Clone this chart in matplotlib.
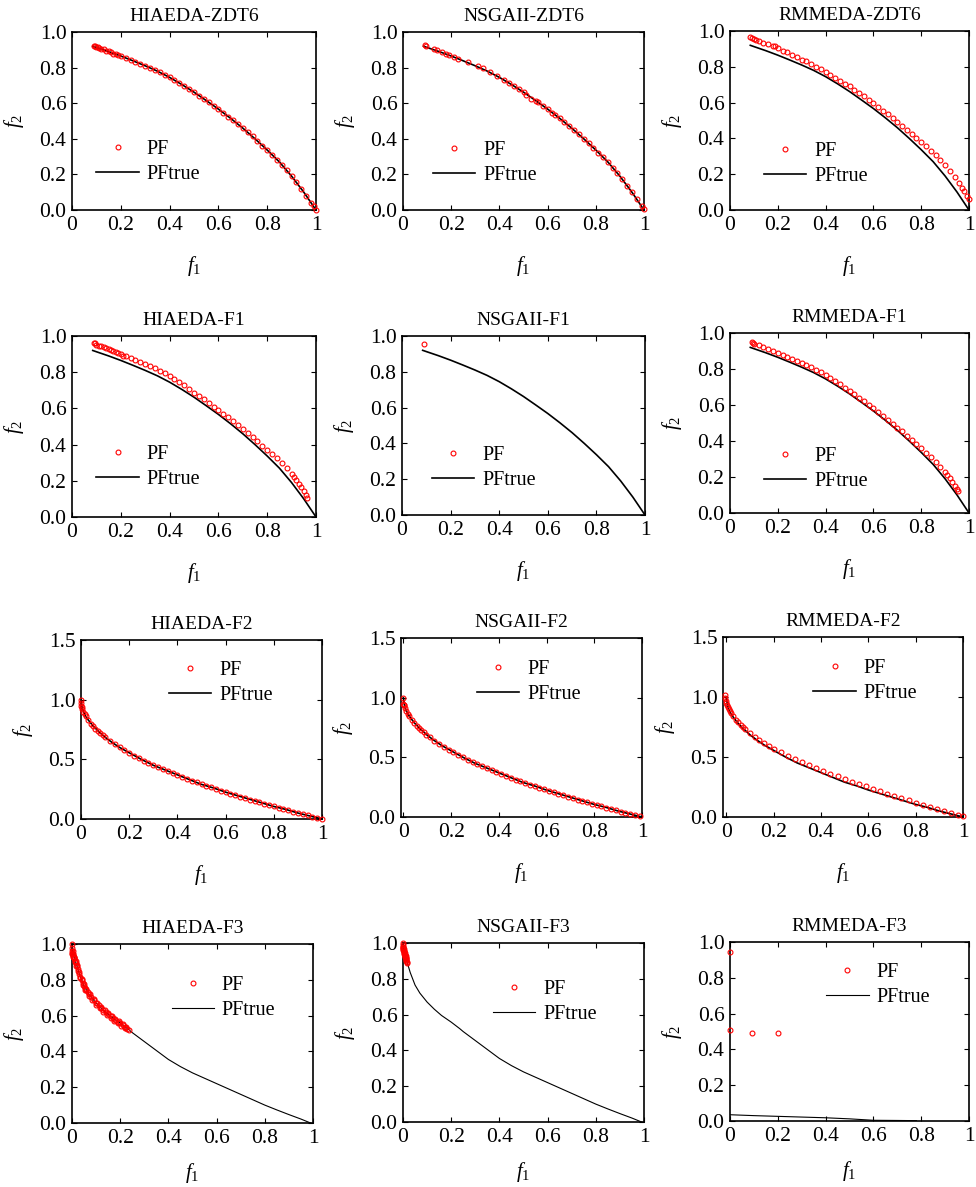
import matplotlib
matplotlib.use('Agg')
import matplotlib.pyplot as plt

plt.rcParams['font.family'] = ['Liberation Serif', 'DejaVu Serif']
plt.rcParams['mathtext.fontset'] = 'custom'
plt.rcParams['mathtext.it'] = 'Liberation Serif:italic'
plt.rcParams['mathtext.rm'] = 'Liberation Serif'

# ---------------- data ----------------
titles = ["HIAEDA-ZDT6", "NSGAII-ZDT6", "RMMEDA-ZDT6",
          "HIAEDA-F1", "NSGAII-F1", "RMMEDA-F1",
          "HIAEDA-F2", "NSGAII-F2", "RMMEDA-F2",
          "HIAEDA-F3", "NSGAII-F3", "RMMEDA-F3"]

# true Pareto fronts
pft_a_f1 = [0.085, 0.10, 0.15, 0.20, 0.25, 0.30, 0.35, 0.40, 0.45, 0.50, 0.55, 0.60, 0.65, 0.70, 0.75, 0.80, 0.85, 0.90, 0.95, 1.00]
pft_a_f2 = [0.92, 0.913, 0.89, 0.865, 0.838, 0.81, 0.78, 0.745, 0.705, 0.662, 0.615, 0.567, 0.515, 0.46, 0.40, 0.337, 0.27, 0.19, 0.10, 0.0]

pft_b_f1 = [0, 0.005, 0.01, 0.02, 0.03, 0.05, 0.07, 0.1, 0.13, 0.16, 0.2, 0.25, 0.3, 0.35, 0.4, 0.45, 0.5, 0.55, 0.6, 0.65, 0.7, 0.75, 0.8, 0.85, 0.9, 0.95, 1.0]
pft_b_f2 = [1.0, 0.93, 0.9, 0.86, 0.83, 0.78, 0.74, 0.685, 0.64, 0.6, 0.555, 0.5, 0.45, 0.41, 0.37, 0.33, 0.29, 0.26, 0.225, 0.195, 0.165, 0.135, 0.105, 0.08, 0.05, 0.025, 0.0]

pft_c_f1 = [0, 0.005, 0.01, 0.02, 0.03, 0.05, 0.07, 0.1, 0.13, 0.16, 0.2, 0.235, 0.25, 0.3, 0.35, 0.4, 0.45, 0.5, 0.55, 0.6, 0.65, 0.7, 0.75, 0.8, 0.85, 0.9, 0.95, 0.99]
pft_c_f2 = [1.0, 0.95, 0.92, 0.88, 0.835, 0.765, 0.72, 0.67, 0.63, 0.595, 0.558, 0.522, 0.505, 0.455, 0.405, 0.355, 0.315, 0.28, 0.25, 0.22, 0.19, 0.16, 0.13, 0.10, 0.073, 0.047, 0.022, 0.0]

pft_d_f1 = [0, 0.1, 0.2, 0.3, 0.4, 0.5, 0.55, 0.6, 0.7, 0.78]
pft_d_f2 = [0.035, 0.03, 0.026, 0.022, 0.018, 0.012, 0.008, 0.004, 0.003, 0.002]

# obtained fronts (PF)
hz6_f1 = [0.09, 0.095, 0.10, 0.105, 0.11, 0.12, 0.13, 0.14, 0.15, 0.16, 0.17, 0.18, 0.19, 0.20,
          0.22, 0.24, 0.26, 0.28, 0.30, 0.32, 0.34, 0.36, 0.38, 0.40,
          0.42, 0.44, 0.46, 0.48, 0.50, 0.52, 0.54, 0.56, 0.58, 0.60,
          0.62, 0.64, 0.66, 0.68, 0.70, 0.72, 0.74, 0.76, 0.78, 0.80,
          0.82, 0.84, 0.86, 0.88, 0.90, 0.92, 0.94, 0.96, 0.98, 0.99, 1.0]
hz6_f2 = [0.924, 0.921, 0.916, 0.913, 0.911, 0.906, 0.902, 0.895, 0.891, 0.885, 0.879, 0.876, 0.869, 0.866,
          0.854, 0.844, 0.833, 0.822, 0.809, 0.798, 0.785, 0.774, 0.758, 0.746,
          0.729, 0.713, 0.697, 0.679, 0.662, 0.643, 0.624, 0.605, 0.586, 0.567,
          0.545, 0.525, 0.504, 0.482, 0.46, 0.437, 0.413, 0.388, 0.362, 0.337,
          0.31, 0.283, 0.254, 0.223, 0.19, 0.155, 0.118, 0.08, 0.04, 0.02, 0.002]

nz6_f1 = [0.09, 0.095, 0.13, 0.14, 0.16, 0.18, 0.19, 0.21, 0.23, 0.27, 0.31, 0.33, 0.36, 0.39, 0.42, 0.44,
          0.46, 0.48, 0.50, 0.51, 0.53, 0.55, 0.56, 0.58, 0.60, 0.62, 0.63, 0.65, 0.67, 0.69, 0.71, 0.73,
          0.75, 0.77, 0.79, 0.81, 0.83, 0.85, 0.87, 0.89, 0.91, 0.93, 0.95, 0.97, 0.99, 1.0]
nz6_f2 = [0.925, 0.923, 0.905, 0.9, 0.89, 0.875, 0.872, 0.86, 0.85, 0.83, 0.81, 0.795, 0.775, 0.755, 0.73, 0.713,
          0.697, 0.68, 0.662, 0.645, 0.625, 0.615, 0.605, 0.586, 0.567, 0.546, 0.536, 0.515, 0.493, 0.471, 0.448, 0.425,
          0.40, 0.375, 0.35, 0.323, 0.297, 0.27, 0.238, 0.206, 0.173, 0.137, 0.10, 0.06, 0.02, 0.003]

rz6_f1 = [0.085, 0.09, 0.10, 0.11, 0.12, 0.14, 0.16, 0.18, 0.19, 0.20,
          0.22, 0.24, 0.26, 0.28, 0.30, 0.32, 0.34, 0.36, 0.38, 0.40,
          0.42, 0.44, 0.46, 0.48, 0.50, 0.52, 0.54, 0.56, 0.58, 0.60,
          0.62, 0.64, 0.66, 0.68, 0.70, 0.72, 0.74, 0.76, 0.78, 0.80,
          0.82, 0.84, 0.86, 0.88, 0.90, 0.92, 0.94, 0.96, 0.97, 0.98, 0.99, 1.0]
rz6_f2 = [0.965, 0.96, 0.955, 0.95, 0.945, 0.935, 0.925, 0.915, 0.915, 0.905,
          0.89, 0.88, 0.865, 0.855, 0.84, 0.83, 0.815, 0.80, 0.785, 0.77,
          0.755, 0.74, 0.72, 0.705, 0.69, 0.67, 0.655, 0.635, 0.615, 0.595,
          0.575, 0.555, 0.535, 0.515, 0.49, 0.47, 0.445, 0.425, 0.40, 0.38,
          0.355, 0.33, 0.305, 0.28, 0.25, 0.22, 0.185, 0.15, 0.125, 0.105, 0.08, 0.06]

hf1_f1 = [0.09, 0.095, 0.10, 0.11, 0.12, 0.13, 0.14, 0.15, 0.16, 0.17, 0.18, 0.19, 0.20, 0.21, 0.22,
          0.24, 0.26, 0.28, 0.30, 0.32, 0.34, 0.36, 0.38, 0.40,
          0.42, 0.44, 0.46, 0.48, 0.50, 0.52, 0.54, 0.56, 0.58, 0.60,
          0.62, 0.64, 0.66, 0.68, 0.70, 0.72, 0.74, 0.76, 0.78, 0.80,
          0.82, 0.84, 0.86, 0.88, 0.90, 0.91, 0.92, 0.93, 0.94, 0.95, 0.96, 0.965]
hf1_f2 = [0.962, 0.96, 0.952, 0.945, 0.942, 0.938, 0.932, 0.926, 0.92, 0.916, 0.91, 0.905, 0.90, 0.892, 0.888,
          0.878, 0.868, 0.856, 0.846, 0.834, 0.822, 0.808, 0.794, 0.78,
          0.762, 0.745, 0.727, 0.706, 0.686, 0.668, 0.65, 0.632, 0.61, 0.592,
          0.57, 0.55, 0.53, 0.508, 0.486, 0.464, 0.442, 0.418, 0.395, 0.372,
          0.35, 0.326, 0.3, 0.272, 0.24, 0.222, 0.204, 0.185, 0.165, 0.143, 0.12, 0.105]

nf1_f1 = [0.09]
nf1_f2 = [0.955]

rf1_f1 = [0.09, 0.095, 0.10, 0.12, 0.14, 0.16, 0.18, 0.20,
          0.22, 0.24, 0.26, 0.28, 0.30, 0.32, 0.34, 0.36, 0.38, 0.40,
          0.42, 0.44, 0.46, 0.48, 0.50, 0.52, 0.54, 0.56, 0.58, 0.60,
          0.62, 0.64, 0.66, 0.68, 0.70, 0.72, 0.74, 0.76, 0.78, 0.80,
          0.82, 0.84, 0.86, 0.88, 0.90, 0.91, 0.92, 0.93, 0.94, 0.95, 0.955]
rf1_f2 = [0.95, 0.945, 0.94, 0.932, 0.922, 0.91, 0.9, 0.888,
          0.878, 0.868, 0.858, 0.846, 0.836, 0.822, 0.81, 0.796, 0.782, 0.768,
          0.75, 0.735, 0.716, 0.697, 0.677, 0.66, 0.641, 0.622, 0.601, 0.582,
          0.561, 0.54, 0.519, 0.497, 0.475, 0.453, 0.43, 0.407, 0.384, 0.36,
          0.336, 0.31, 0.284, 0.257, 0.228, 0.21, 0.192, 0.172, 0.152, 0.132, 0.12]

hf2_f1 = [0, 0, 0.002, 0.004, 0.006, 0.01, 0.015, 0.02,
          0.03, 0.04, 0.05, 0.06, 0.07, 0.08, 0.09, 0.1,
          0.12, 0.14, 0.16, 0.18, 0.2, 0.22, 0.24, 0.26, 0.28, 0.3,
          0.32, 0.34, 0.36, 0.38, 0.4, 0.42, 0.44, 0.46, 0.48, 0.5,
          0.52, 0.54, 0.56, 0.58, 0.6, 0.62, 0.64, 0.66, 0.68, 0.7,
          0.72, 0.74, 0.76, 0.78, 0.8, 0.82, 0.84, 0.86, 0.88, 0.9,
          0.92, 0.94, 0.96, 0.98, 1.0]
hf2_f2 = [1.0, 0.97, 0.95, 0.94, 0.925, 0.9, 0.88, 0.86,
          0.83, 0.80, 0.78, 0.755, 0.735, 0.72, 0.70, 0.685,
          0.655, 0.625, 0.60, 0.578, 0.555, 0.532, 0.51, 0.49, 0.47, 0.452,
          0.435, 0.418, 0.40, 0.384, 0.368, 0.352, 0.337, 0.322, 0.308, 0.293,
          0.279, 0.265, 0.252, 0.238, 0.225, 0.212, 0.2, 0.187, 0.175, 0.163,
          0.151, 0.14, 0.128, 0.117, 0.106, 0.095, 0.084, 0.073, 0.062, 0.051,
          0.041, 0.031, 0.02, 0.01, 0.0]

nf2_f1 = [0, 0, 0.002, 0.004, 0.008, 0.012, 0.02, 0.025,
          0.035, 0.045, 0.055, 0.065, 0.075, 0.085, 0.095,
          0.11, 0.13, 0.15, 0.17, 0.19, 0.21, 0.23, 0.25, 0.27, 0.29,
          0.31, 0.33, 0.35, 0.37, 0.39, 0.41, 0.43, 0.45, 0.47, 0.49,
          0.51, 0.53, 0.55, 0.57, 0.59, 0.61, 0.63, 0.65, 0.67, 0.69,
          0.71, 0.73, 0.75, 0.77, 0.79, 0.81, 0.83, 0.85, 0.87, 0.89,
          0.91, 0.93, 0.95, 0.97, 0.99]
nf2_f2 = [1.0, 0.95, 0.94, 0.935, 0.91, 0.89, 0.86, 0.845,
          0.815, 0.79, 0.765, 0.745, 0.725, 0.71, 0.69,
          0.67, 0.64, 0.612, 0.588, 0.565, 0.542, 0.52, 0.5, 0.48, 0.461,
          0.443, 0.426, 0.409, 0.392, 0.376, 0.36, 0.344, 0.329, 0.314, 0.3,
          0.286, 0.272, 0.258, 0.245, 0.232, 0.219, 0.206, 0.194, 0.182, 0.169,
          0.157, 0.146, 0.134, 0.123, 0.111, 0.1, 0.089, 0.078, 0.067, 0.057,
          0.046, 0.036, 0.025, 0.015, 0.005]

rf2_f1 = [-0.004, -0.004, -0.002, 0, 0.003, 0.006, 0.01, 0.015, 0.02,
          0.03, 0.04, 0.05, 0.06, 0.07, 0.08,
          0.1, 0.12, 0.14, 0.16, 0.18, 0.2,
          0.23, 0.26, 0.29, 0.32, 0.35, 0.38, 0.41, 0.44, 0.47, 0.5,
          0.53, 0.56, 0.59, 0.62, 0.65, 0.68, 0.71, 0.74, 0.77, 0.8,
          0.83, 0.86, 0.89, 0.92, 0.95, 0.98, 1.0]
rf2_f2 = [1.02, 0.99, 0.97, 0.95, 0.93, 0.92, 0.9, 0.885, 0.865,
          0.84, 0.81, 0.79, 0.765, 0.75, 0.73,
          0.7, 0.67, 0.64, 0.615, 0.59, 0.57,
          0.54, 0.51, 0.48, 0.455, 0.43, 0.405, 0.38, 0.36, 0.34, 0.315,
          0.295, 0.275, 0.255, 0.235, 0.215, 0.195, 0.175, 0.16, 0.14, 0.12,
          0.1, 0.085, 0.065, 0.05, 0.035, 0.02, 0.01]

hf3_f1 = [0, 0, 0, 0.001, 0.002, 0.004, 0.006, 0.008, 0.01, 0.013,
          0.016, 0.02, 0.025, 0.03, 0.035, 0.04, 0.045, 0.05, 0.055, 0.06,
          0.065, 0.07, 0.08, 0.09, 0.1, 0.11, 0.12, 0.13, 0.14, 0.15,
          0.16, 0.17, 0.18, 0.19, 0.2, 0.21, 0.22, 0.23, 0.235,
          0.003, 0.005, 0.009, 0.015, 0.022, 0.03, 0.04, 0.05, 0.06, 0.075,
          0.09, 0.105, 0.12, 0.135, 0.15, 0.165, 0.18, 0.195, 0.21, 0.225,
          0.004, 0.008, 0.012, 0.018, 0.025, 0.035, 0.045, 0.055, 0.07, 0.085,
          0.1, 0.115, 0.13, 0.145, 0.16, 0.175, 0.19, 0.205, 0.22]
hf3_f2 = [1.0, 0.98, 0.96, 0.95, 0.945, 0.935, 0.93, 0.925, 0.92, 0.905,
          0.895, 0.88, 0.858, 0.835, 0.815, 0.798, 0.78, 0.765, 0.754, 0.743,
          0.731, 0.72, 0.703, 0.686, 0.67, 0.657, 0.643, 0.63, 0.618, 0.607,
          0.595, 0.586, 0.577, 0.567, 0.558, 0.548, 0.537, 0.527, 0.522,
          0.96, 0.945, 0.93, 0.905, 0.875, 0.845, 0.805, 0.775, 0.75, 0.72,
          0.69, 0.668, 0.648, 0.63, 0.612, 0.596, 0.582, 0.568, 0.553, 0.535,
          0.945, 0.92, 0.9, 0.878, 0.848, 0.808, 0.772, 0.745, 0.711, 0.686,
          0.661, 0.641, 0.621, 0.603, 0.586, 0.572, 0.558, 0.544, 0.528]

nf3_f1 = [0, 0, 0, 0, 0.001, 0.002, 0.003, 0.004, 0.005, 0.006, 0.007, 0.008, 0.009, 0.01,
          0.011, 0.012, 0.013, 0.014, 0.015, 0.016, 0.002, 0.004, 0.006, 0.008, 0.01, 0.012, 0.014]
nf3_f2 = [1.0, 0.99, 0.98, 0.97, 0.965, 0.96, 0.955, 0.95, 0.945, 0.94, 0.935, 0.93, 0.925, 0.92,
          0.915, 0.91, 0.905, 0.9, 0.895, 0.89, 0.975, 0.965, 0.955, 0.945, 0.935, 0.925, 0.915]

rf3_f1 = [0, 0, 0.09, 0.2]
rf3_f2 = [0.945, 0.51, 0.493, 0.493]

pf_sets = [(hz6_f1, hz6_f2), (nz6_f1, nz6_f2), (rz6_f1, rz6_f2),
           (hf1_f1, hf1_f2), (nf1_f1, nf1_f2), (rf1_f1, rf1_f2),
           (hf2_f1, hf2_f2), (nf2_f1, nf2_f2), (rf2_f1, rf2_f2),
           (hf3_f1, hf3_f2), (nf3_f1, nf3_f2), (rf3_f1, rf3_f2)]
true_sets = [(pft_a_f1, pft_a_f2)] * 6 + [(pft_b_f1, pft_b_f2)] * 3 + \
            [(pft_c_f1, pft_c_f2)] * 2 + [(pft_d_f1, pft_d_f2)]

xtick_vals = [0, 0.2, 0.4, 0.6, 0.8, 1.0]
xtick_labels = ['0', '0.2', '0.4', '0.6', '0.8', '1']
ytick_a = [0.0, 0.2, 0.4, 0.6, 0.8, 1.0]
ytick_b = [0.0, 0.5, 1.0, 1.5]

# ---------------- layout (pixel boxes: left, top, right, bottom) ----------------
W, H = 976, 1187
boxes = [(72, 32, 316, 210), (403, 32, 644, 210), (730, 31, 969, 210),
         (72, 336, 316, 517), (402, 336, 645, 515), (730, 333, 969, 513),
         (81, 640, 322, 819), (401, 638, 642, 817), (723, 637, 963, 817),
         (72, 944, 313, 1123), (403, 943, 644, 1122), (730, 942, 969, 1121)]
legend_anchor = [(0.10, 0.268), (0.123, 0.262), (0.143, 0.255),
                 (0.10, 0.278), (0.122, 0.262), (0.142, 0.244),
                 (0.365, 0.758), (0.315, 0.755), (0.377, 0.755),
                 (0.413, 0.70), (0.372, 0.67), (0.403, 0.76)]
xlims = [(0, 1)] * 6 + [(0, 1), (-0.01, 1), (-0.014, 1)] + [(0, 1)] * 3

fig = plt.figure(figsize=(W / 100, H / 100), dpi=100)

for i, (l, t, r, b) in enumerate(boxes):
    ax = fig.add_axes([l / W, 1 - b / H, (r - l) / W, (b - t) / H])
    pfx, pfy = pf_sets[i]
    tx, ty = true_sets[i]
    lw = 0.8 if i >= 9 else 1.2
    ax.plot(pfx, pfy, linestyle='none', marker='o', markersize=3.5,
            markerfacecolor='none', markeredgecolor='red', markeredgewidth=0.8,
            clip_on=False, zorder=3, label='PF')
    ax.plot(tx, ty, color='black', linewidth=lw, zorder=2, label='PFtrue')
    ax.set_xlim(*xlims[i])
    ax.set_xticks(xtick_vals)
    ax.set_xticklabels(xtick_labels)
    if 6 <= i <= 8:
        ax.set_ylim(0, 1.5)
        ax.set_yticks(ytick_b)
        ax.set_yticklabels(['%.1f' % v for v in ytick_b])
    else:
        ax.set_ylim(0, 1.0)
        ax.set_yticks(ytick_a)
        ax.set_yticklabels(['%.1f' % v for v in ytick_a])
    ax.tick_params(direction='in', length=3.5, width=0.8, top=True, right=True,
                   labelsize=15.5, pad=4)
    for s in ax.spines.values():
        s.set_linewidth(1.2)
    ax.set_title(titles[i], fontsize=14, pad=8)
    ax.set_xlabel(r'$f_1$', fontsize=15, labelpad=(10 if i >= 9 else 14))
    ax.set_ylabel(r'$f_2$', fontsize=15, labelpad=10)
    ax.legend(loc='center left', bbox_to_anchor=legend_anchor[i], frameon=False,
              fontsize=14.5, numpoints=1, handlelength=2.1, handletextpad=0.4,
              borderaxespad=0, borderpad=0, labelspacing=0.3)

fig.savefig('out.png', dpi=100, facecolor='white')
